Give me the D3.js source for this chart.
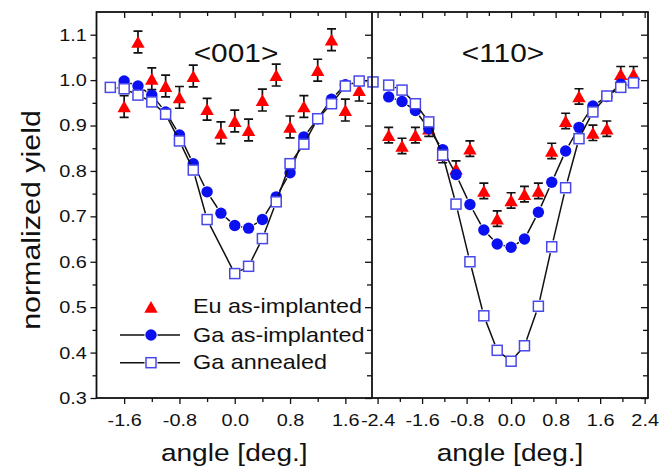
<!DOCTYPE html>
<meta charset="utf-8">
<style>
	body { margin: 0; background: #fff; }
	text { font-family: "Liberation Sans", Arial, sans-serif; fill: #111; }
	.frame { fill: none; stroke: #111; stroke-width: 1.8; }
	.tick line { stroke: #111; stroke-width: 1.3; }
	.domain { display: none; }
	.ga-line { fill: none; stroke: #111; stroke-width: 1.5; }
	.eu { fill: #ff0000; }
	.err { stroke: #111; stroke-width: 1.7; fill: none; }
	.implanted { fill: #0a10f0; }
	.annealed { fill: #fff; stroke: #4848e8; stroke-width: 1.5; }
</style>
<body>
<script src="https://cdn.jsdelivr.net/npm/d3@7"></script>
<script>
var width = 668,
    height = 469;

// glyphs of the original font run wider than Arial
var sx = 1.17;

// <001> panel
var angle001 = [-1.6, -1.4, -1.2, -1.0, -0.8, -0.6, -0.4, -0.2, 0, 0.2, 0.4, 0.6, 0.8, 1.0, 1.2, 1.4, 1.6, 1.8];
var eu001 = [0.942, 1.084, 1.003, 0.987, 0.962, 1.009, 0.936, 0.884, 0.910, 0.890, 0.956, 1.011, 0.897, 0.942, 1.022, 1.089, 0.934, 0.978];
var impAngle001 = [-1.6, -1.4, -1.2, -1.0, -0.8, -0.6, -0.4, -0.2, 0, 0.2, 0.4, 0.6, 0.8, 1.0, 1.2, 1.4, 1.6];
var implanted001 = [0.998, 0.987, 0.967, 0.930, 0.879, 0.816, 0.754, 0.707, 0.680, 0.674, 0.693, 0.743, 0.796, 0.875, 0.915, 0.958, 0.990];
var annAngle001 = [-1.8, -1.6, -1.4, -1.2, -1.0, -0.8, -0.6, -0.4, 0, 0.2, 0.4, 0.6, 0.8, 1.0, 1.2, 1.4, 1.6, 1.8, 2.0];
var annealed001 = [0.984, 0.981, 0.967, 0.952, 0.925, 0.866, 0.802, 0.693, 0.574, 0.590, 0.651, 0.732, 0.816, 0.859, 0.915, 0.948, 0.987, 0.998, 0.996];
var euErr001 = 0.024;

// <110> panel
var angle110 = [-2.2, -1.96, -1.72, -1.48, -1.23, -0.99, -0.74, -0.49, -0.25, 0, 0.24, 0.49, 0.73, 0.98, 1.22, 1.47, 1.72, 1.97, 2.2];
var eu110 = [0.879, 0.855, 0.879, 0.893, 0.835, 0.805, 0.849, 0.756, 0.695, 0.735, 0.749, 0.756, 0.844, 0.910, 0.964, 0.884, 0.893, 1.013, 1.013];
var impAngle110 = [-2.2, -1.96, -1.72, -1.48, -1.23, -0.99, -0.74, -0.49, -0.25, 0, 0.24, 0.49, 0.73, 0.98, 1.22, 1.47, 1.72, 1.97];
var implanted110 = [0.963, 0.953, 0.933, 0.893, 0.847, 0.792, 0.726, 0.670, 0.639, 0.632, 0.650, 0.709, 0.775, 0.844, 0.896, 0.943, 0.964, 0.991];
var annealed110 = [0.989, 0.978, 0.948, 0.908, 0.835, 0.727, 0.600, 0.481, 0.405, 0.381, 0.415, 0.502, 0.633, 0.763, 0.871, 0.930, 0.965, 0.984, 0.994];
var euErr110 = 0.017;

var yMajor = [0.3, 0.4, 0.5, 0.6, 0.7, 0.8, 0.9, 1.0, 1.1];
var yMinor = [0.35, 0.45, 0.55, 0.65, 0.75, 0.85, 0.95, 1.05];
var xMajor001 = [-1.6, -0.8, 0, 0.8, 1.6];
var xMinor001 = [-1.2, -0.4, 0.4, 1.2];
var xMajor110 = [-2.4, -1.6, -0.8, 0, 0.8, 1.6, 2.4];
var xMinor110 = [-2.0, -1.2, -0.4, 0.4, 1.2, 2.0];

var legendLabels = ["Eu as-implanted", "Ga as-implanted", "Ga annealed"];

var plotTop = 12, plotBottom = 398, divide = 372;

var y = d3.scaleLinear().domain([0.3, 1.15]).range([plotBottom, plotTop]);

var panels = [
  { name: "<001>", x: d3.scaleLinear().domain([-2, 2]).range([96.5, 373]), left: 96.5, right: divide,
    labelX: 236, major: xMajor001, minor: xMinor001, err: euErr001,
    eu: angle001.map(function(a, i) { return [a, eu001[i]]; }),
    imp: impAngle001.map(function(a, i) { return [a, implanted001[i]]; }),
    ann: annAngle001.map(function(a, i) { return [a, annealed001[i]]; }) },
  { name: "<110>", x: d3.scaleLinear().domain([-2.5, 2.46]).range([divide, 648]), left: divide, right: 648,
    labelX: 503, major: xMajor110, minor: xMinor110, err: euErr110,
    eu: angle110.map(function(a, i) { return [a, eu110[i]]; }),
    imp: impAngle110.map(function(a, i) { return [a, implanted110[i]]; }),
    ann: angle110.map(function(a, i) { return [a, annealed110[i]]; }) }
];

var fmt = function(d) { return d.toFixed(1); };
var tri = "M0,-5.9L6.7,5.9L-6.7,5.9Z";

// lines stop short of the symbols, as in the original plot
function gapped(pts, gap) {
  var d = "";
  for (var i = 1; i < pts.length; i++) {
    var x0 = pts[i - 1][0], y0 = pts[i - 1][1], x1 = pts[i][0], y1 = pts[i][1];
    var len = Math.hypot(x1 - x0, y1 - y0);
    if (len <= 2 * gap) continue;
    var ux = (x1 - x0) / len, uy = (y1 - y0) / len;
    d += "M" + (x0 + ux * gap) + "," + (y0 + uy * gap) + "L" + (x1 - ux * gap) + "," + (y1 - uy * gap);
  }
  return d;
}

var svg = d3.select("body").append("svg")
    .attr("width", width)
    .attr("height", height);

panels.forEach(function(p, k) {
  var x = p.x;

  // bottom ticks, outward
  svg.append("g").attr("transform", "translate(0," + plotBottom + ")")
      .call(d3.axisBottom(x).tickValues(p.minor).tickSize(4).tickFormat(""));
  var bx = svg.append("g").attr("transform", "translate(0," + plotBottom + ")")
      .call(d3.axisBottom(x).tickValues(p.major).tickSize(6).tickPadding(10).tickFormat(fmt));
  bx.selectAll(".tick text").style("font-size", "17px").attr("transform", "scale(" + sx + ",1)");

  // top ticks, inward
  svg.append("g").attr("transform", "translate(0," + plotTop + ")")
      .call(d3.axisTop(x).tickValues(p.minor).tickSize(-4).tickFormat(""));
  svg.append("g").attr("transform", "translate(0," + plotTop + ")")
      .call(d3.axisTop(x).tickValues(p.major).tickSize(-6).tickFormat(""));

  // right side ticks, inward
  svg.append("g").attr("transform", "translate(" + p.right + ",0)")
      .call(d3.axisRight(y).tickValues(yMajor).tickSize(-7).tickFormat(""));
  svg.append("g").attr("transform", "translate(" + p.right + ",0)")
      .call(d3.axisRight(y).tickValues(yMinor).tickSize(-5).tickFormat(""));

  // error bars
  var err = svg.append("g").attr("class", "err");
  p.eu.forEach(function(d) {
    var cx = x(d[0]), y1 = y(d[1] + p.err), y2 = y(d[1] - p.err);
    err.append("path").attr("d", "M" + cx + "," + y1 + "L" + cx + "," + y2 +
      "M" + (cx - 4.5) + "," + y1 + "L" + (cx + 4.5) + "," + y1 +
      "M" + (cx - 4.5) + "," + y2 + "L" + (cx + 4.5) + "," + y2);
  });

  svg.append("g").selectAll("path").data(p.eu)
    .enter().append("path")
      .attr("class", "eu")
      .attr("d", tri)
      .attr("transform", function(d) { return "translate(" + x(d[0]) + "," + y(d[1]) + ")"; });

  svg.append("path").attr("class", "ga-line")
      .attr("d", gapped(p.imp.map(function(d) { return [x(d[0]), y(d[1])]; }), 6.5));
  svg.append("g").selectAll("circle").data(p.imp)
    .enter().append("circle")
      .attr("class", "implanted")
      .attr("r", 5.7)
      .attr("cx", function(d) { return x(d[0]); })
      .attr("cy", function(d) { return y(d[1]); });

  svg.append("path").attr("class", "ga-line")
      .attr("d", gapped(p.ann.map(function(d) { return [x(d[0]), y(d[1])]; }), 6.5));
  svg.append("g").selectAll("rect").data(p.ann)
    .enter().append("rect")
      .attr("class", "annealed")
      .attr("width", 10).attr("height", 10)
      .attr("x", function(d) { return x(d[0]) - 5; })
      .attr("y", function(d) { return y(d[1]) - 5; });

  svg.append("text")
      .attr("transform", "translate(" + p.labelX + ",61.5) scale(" + sx + ",1)")
      .attr("text-anchor", "middle")
      .style("font-size", "25.5px")
      .text(p.name);

  svg.append("text")
      .attr("transform", "translate(" + ((p.left + p.right) / 2) + ",461) scale(" + sx + ",1)")
      .attr("text-anchor", "middle")
      .style("font-size", "24px")
      .text("angle [deg.]");
});

// left y axis, outward
svg.append("g").attr("transform", "translate(96.5,0)")
    .call(d3.axisLeft(y).tickValues(yMinor).tickSize(4).tickFormat(""));
var ly = svg.append("g").attr("transform", "translate(96.5,0)")
    .call(d3.axisLeft(y).tickValues(yMajor).tickSize(6).tickPadding(2.2).tickFormat(fmt));
ly.selectAll(".tick text").style("font-size", "17px").attr("transform", "scale(" + sx + ",1)");

svg.append("rect").attr("class", "frame")
    .attr("x", 96.5).attr("y", plotTop)
    .attr("width", 648 - 96.5).attr("height", plotBottom - plotTop);
svg.append("line").attr("class", "frame")
    .attr("x1", divide).attr("x2", divide).attr("y1", plotTop).attr("y2", plotBottom);

svg.append("text")
    .attr("transform", "translate(40,220) rotate(-90) scale(" + sx + ",1)")
    .attr("text-anchor", "middle")
    .style("font-size", "26px")
    .text("normalized yield");

// legend
var legend = svg.append("g");
var rows = [306.8, 335, 362.7];
legendLabels.forEach(function(label, i) {
  var cy = rows[i];
  if (i > 0) {
    legend.append("path").attr("class", "ga-line")
        .attr("d", "M120," + cy + "L144.5," + cy + "M157.5," + cy + "L180," + cy);
  }
  if (i == 0) legend.append("path").attr("class", "eu").attr("d", tri)
      .attr("transform", "translate(151," + cy + ")");
  if (i == 1) legend.append("circle").attr("class", "implanted").attr("r", 5.7)
      .attr("cx", 151).attr("cy", cy);
  if (i == 2) legend.append("rect").attr("class", "annealed")
      .attr("x", 146).attr("y", cy - 5).attr("width", 10).attr("height", 10);
  legend.append("text")
      .attr("transform", "translate(193," + (cy + 6.6) + ") scale(" + sx + ",1)")
      .style("font-size", "20px")
      .text(label);
});
</script>
